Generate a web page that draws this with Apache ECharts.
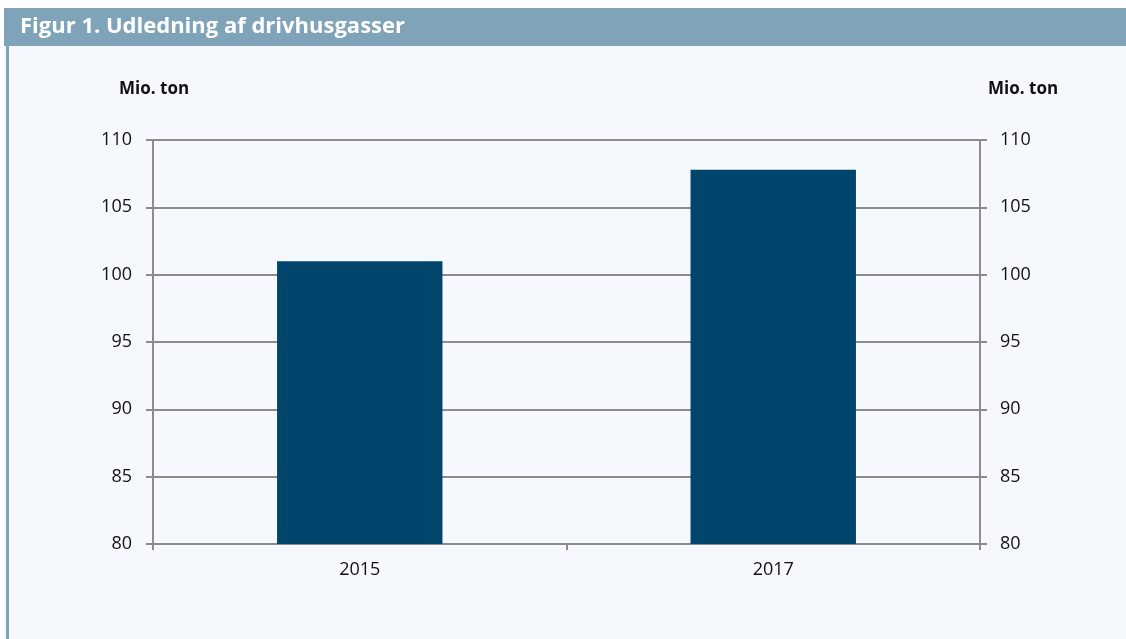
<!DOCTYPE html>
<html>
<head>
<meta charset="utf-8">
<script src="https://cdn.jsdelivr.net/npm/echarts@6/dist/echarts.min.js"></script>
<style>
  html, body { margin: 0; padding: 0; background: #ffffff; }
  #chart { width: 1126px; height: 639px; }
</style>
</head>
<body>
<div id="chart"></div>
<script>
  // data
  var years = ['2015', '2017'];
  var emissions = [101.0, 107.8];
  var axisMin = 80, axisMax = 110, axisStep = 5;

  var axisGrey = '#8c8c8c';
  var labelFont = {color: '#111', fontSize: 18, fontFamily: 'Open Sans'};

  var chart = echarts.init(document.getElementById('chart'));

  chart.setOption({
    animation: false,
    backgroundColor: '#ffffff',
    graphic: [
      // light panel
      {type: 'rect', z: -10, shape: {x: 4, y: 46, width: 1122, height: 593}, style: {fill: '#f5f9fd'}},
      // header band
      {type: 'rect', shape: {x: 4, y: 8, width: 1122, height: 38}, style: {fill: '#7fa3b8'}},
      // left stripe
      {type: 'rect', shape: {x: 6, y: 46, width: 3, height: 593}, style: {fill: '#7fa3b8'}},
      {type: 'text', left: 20, top: 16, style: {text: 'Figur 1. Udledning af drivhusgasser', fill: '#ffffff',
        font: 'bold 22px "Open Sans"'}},
      {type: 'text', left: 119, top: 81, style: {text: 'Mio. ton', fill: '#111', font: 'bold 17px "Open Sans"'}},
      {type: 'text', left: 988, top: 81, style: {text: 'Mio. ton', fill: '#111', font: 'bold 17px "Open Sans"'}}
    ],
    grid: {left: 153, right: 146, top: 140, bottom: 95},
    xAxis: {
      type: 'category',
      data: years,
      axisLine: {lineStyle: {color: axisGrey, width: 2}},
      axisTick: {show: true, length: 6, lineStyle: {color: axisGrey, width: 2}},
      axisLabel: Object.assign({margin: 17}, labelFont)
    },
    yAxis: [{
      type: 'value',
      min: axisMin, max: axisMax, interval: axisStep,
      position: 'left',
      axisLine: {show: true, lineStyle: {color: axisGrey, width: 2}},
      axisTick: {show: true, length: 7, lineStyle: {color: axisGrey, width: 2}},
      axisLabel: Object.assign({margin: 21}, labelFont),
      splitLine: {show: true, lineStyle: {color: axisGrey, width: 2}}
    }, {
      type: 'value',
      min: axisMin, max: axisMax, interval: axisStep,
      position: 'right',
      axisLine: {show: true, lineStyle: {color: axisGrey, width: 2}},
      axisTick: {show: true, length: 7, lineStyle: {color: axisGrey, width: 2}},
      axisLabel: Object.assign({margin: 20}, labelFont),
      splitLine: {show: false}
    }],
    series: [{
      type: 'bar',
      data: emissions,
      barWidth: '40%',
      itemStyle: {color: '#00456b'}
    }]
  });
</script>
</body>
</html>
